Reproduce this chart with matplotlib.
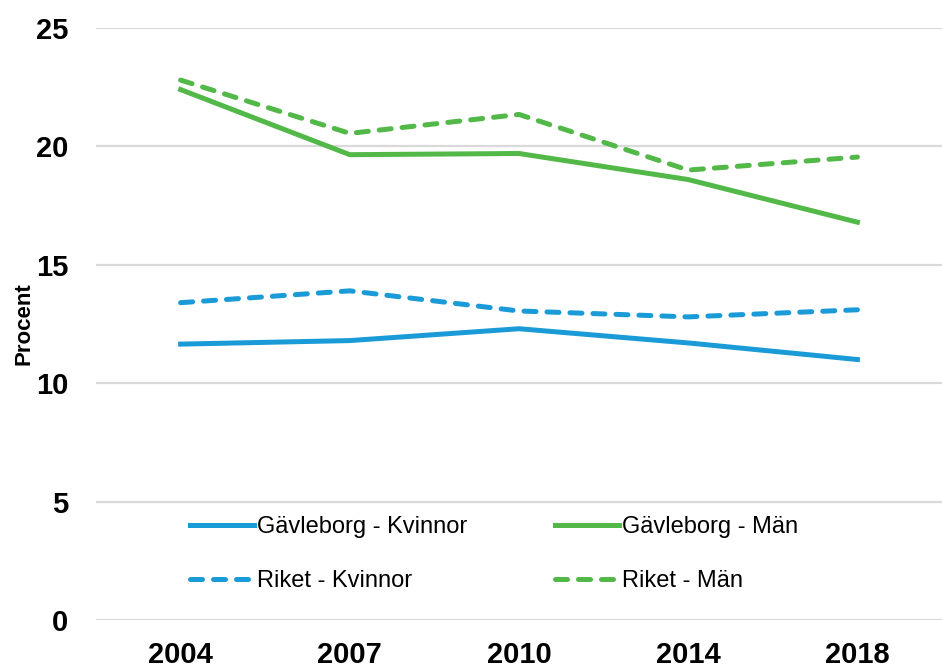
import matplotlib

matplotlib.use("Agg")
import matplotlib.pyplot as plt

YEARS = ["2004", "2007", "2010", "2014", "2018"]
GAVLEBORG_KVINNOR = [11.65, 11.8, 12.3, 11.7, 11.0]
GAVLEBORG_MAN = [22.4, 19.65, 19.7, 18.6, 16.8]
RIKET_KVINNOR = [13.4, 13.9, 13.05, 12.8, 13.1]
RIKET_MAN = [22.8, 20.55, 21.35, 19.0, 19.55]

BLUE = "#1a9bd7"
GREEN = "#52b848"

plt.rcParams["font.family"] = ["Liberation Sans", "DejaVu Sans"]

fig = plt.figure(figsize=(9.42, 6.68), dpi=100)
ax = fig.add_axes([96 / 942, 48 / 668, 846 / 942, 592 / 668])

x = range(len(YEARS))
LW = 3.6
dash = dict(ls=(0, (2.4, 2.2)), dash_capstyle="round")
ax.plot(x, GAVLEBORG_KVINNOR, color=BLUE, lw=LW, label="Gävleborg - Kvinnor")
ax.plot(x, RIKET_KVINNOR, color=BLUE, lw=LW, label="Riket - Kvinnor", **dash)
ax.plot(x, GAVLEBORG_MAN, color=GREEN, lw=LW, label="Gävleborg - Män")
ax.plot(x, RIKET_MAN, color=GREEN, lw=LW, label="Riket - Män", **dash)

ax.set_xlim(-0.5, 4.5)
ax.set_ylim(0, 25)
ax.set_xticks(list(x))
ax.set_xticklabels(YEARS)
ax.set_yticks([0, 5, 10, 15, 20, 25])
ax.tick_params(length=0, labelsize=21)
ax.tick_params(axis="y", pad=20)
ax.tick_params(axis="x", pad=15)
for lab in ax.get_xticklabels() + ax.get_yticklabels():
    lab.set_fontweight("bold")
ax.grid(axis="y", color="#d9d9d9", lw=1.6)
ax.set_axisbelow(True)
for s in ax.spines.values():
    s.set_visible(False)

fig.text(24 / 942, 1 - 324 / 668, "Procent", rotation=90, fontsize=16,
         fontweight="bold", ha="center", va="center")

handles, labels = ax.get_legend_handles_labels()
fig.legend(handles, labels,
           loc="upper left", bbox_to_anchor=(190 / 942, 1 - 516 / 668),
           ncol=2, frameon=False, fontsize=17, borderpad=0, borderaxespad=0,
           handlelength=2.7, handletextpad=0.15, columnspacing=3.7,
           labelspacing=1.35)

fig.savefig("out.png", dpi=100)
